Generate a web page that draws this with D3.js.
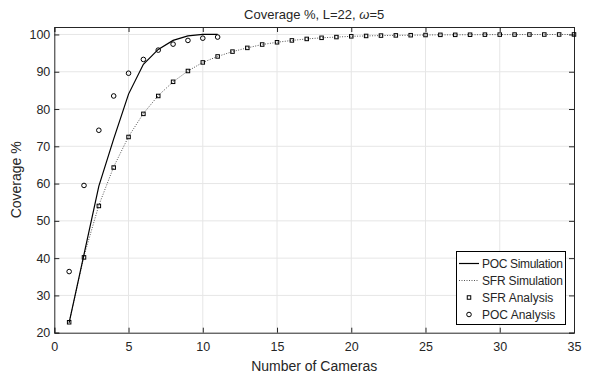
<!DOCTYPE html>
<html>
<head>
<meta charset="utf-8">
<script src="https://cdn.jsdelivr.net/npm/d3@7"></script>
<style>
  body { margin: 0; background: #fff; }
  svg text { font-family: "Liberation Sans", Arial, sans-serif; fill: #262626; }
</style>
</head>
<body>
<div id="chart"></div>
<script>
// Data
var cameras = d3.range(1, 36);
var pocCameras = d3.range(1, 12);

var sfrAnalysis = [22.8, 40.2, 54.0, 64.3, 72.5, 78.7, 83.5, 87.3, 90.2, 92.5,
                   94.1, 95.4, 96.4, 97.3, 97.9, 98.4, 98.8, 99.1, 99.3, 99.5,
                   99.6, 99.7, 99.75, 99.8, 99.85, 99.9, 99.9, 99.93, 99.95, 99.96,
                   99.97, 99.98, 99.98, 99.99, 100];
var sfrSimulation = [22.7, 40.6, 54.2, 64.5, 72.6, 78.8, 83.6, 87.3, 90.2, 92.5,
                     94.1, 95.4, 96.4, 97.3, 97.9, 98.4, 98.8, 99.1, 99.3, 99.5,
                     99.6, 99.7, 99.75, 99.8, 99.85, 99.9, 99.9, 99.93, 99.95, 99.96,
                     99.97, 99.98, 99.98, 99.99, 100];
var pocSimulation = [22.7, 41.0, 59.3, 72.0, 84.0, 92.0, 96.0, 98.4, 99.6, 100, 100];
var pocAnalysis = [36.4, 59.5, 74.3, 83.5, 89.6, 93.3, 95.8, 97.4, 98.4, 99.0, 99.3];

var xTicks = [0, 5, 10, 15, 20, 25, 30, 35];
var yTicks = [20, 30, 40, 50, 60, 70, 80, 90, 100];
var legendLabels = ["POC Simulation", "SFR Simulation", "SFR Analysis", "POC Analysis"];

//////////////////////////////////////////////////////////////////////////////
var width = 591, height = 377;
var plotLeft = 54.3, plotRight = 574, plotTop = 27, plotBottom = 332.7;
var axisColor = "#262626";

var svg = d3.select("#chart").append("svg")
    .attr("width", width)
    .attr("height", height);

var x = d3.scaleLinear().domain([0, 35]).range([plotLeft, plotRight]);
var y = d3.scaleLinear().domain([20, 102]).range([plotBottom, plotTop]);

// grid
var grid = svg.append("g");
grid.selectAll(".gx").data(xTicks.slice(1, -1)).enter().append("line")
    .attr("x1", d => x(d)).attr("x2", d => x(d))
    .attr("y1", plotTop).attr("y2", plotBottom)
    .attr("stroke", "#e6e6e6").attr("stroke-width", 1);
grid.selectAll(".gy").data(yTicks.slice(1)).enter().append("line")
    .attr("x1", plotLeft).attr("x2", plotRight)
    .attr("y1", d => y(d)).attr("y2", d => y(d))
    .attr("stroke", "#e6e6e6").attr("stroke-width", 1);

// axes (ticks inward, box on)
var xAxis = svg.append("g").attr("transform", "translate(0," + plotBottom + ")")
    .call(d3.axisBottom(x).tickValues(xTicks).tickSize(-5).tickPadding(9));
var xAxisTop = svg.append("g").attr("transform", "translate(0," + plotTop + ")")
    .call(d3.axisTop(x).tickValues(xTicks).tickSize(-5).tickFormat(""));
var yAxis = svg.append("g").attr("transform", "translate(" + plotLeft + ",0)")
    .call(d3.axisLeft(y).tickValues(yTicks).tickSize(-5).tickPadding(4));
var yAxisRight = svg.append("g").attr("transform", "translate(" + plotRight + ",0)")
    .call(d3.axisRight(y).tickValues(yTicks).tickSize(-5).tickFormat(""));

[xAxis, xAxisTop, yAxis, yAxisRight].forEach(function(a) {
    a.select(".domain").attr("stroke", axisColor);
    a.selectAll(".tick line").attr("stroke", axisColor);
    a.selectAll("text").attr("font-size", 12.5).attr("fill", axisColor)
        .style("font-family", "'Liberation Sans', Arial, sans-serif");
});

// lines
var line = d3.line().x(d => x(d[0])).y(d => y(d[1]));

svg.append("path")
    .datum(cameras.map((c, i) => [c, sfrSimulation[i]]))
    .attr("d", line)
    .attr("fill", "none")
    .attr("stroke", "#555")
    .attr("stroke-width", 1)
    .attr("stroke-dasharray", "1,1.5");

svg.append("path")
    .datum(pocCameras.map((c, i) => [c, pocSimulation[i]]))
    .attr("d", line)
    .attr("fill", "none")
    .attr("stroke", "#000")
    .attr("stroke-width", 1.2);

// markers
svg.append("g").selectAll("rect")
    .data(cameras.map((c, i) => [c, sfrAnalysis[i]]))
    .enter().append("rect")
    .attr("x", d => x(d[0]) - 1.75)
    .attr("y", d => y(d[1]) - 1.75)
    .attr("width", 3.5).attr("height", 3.5)
    .attr("fill", "none").attr("stroke", "#000").attr("stroke-width", 1);

svg.append("g").selectAll("circle")
    .data(pocCameras.map((c, i) => [c, pocAnalysis[i]]))
    .enter().append("circle")
    .attr("cx", d => x(d[0]))
    .attr("cy", d => y(d[1]))
    .attr("r", 2.3)
    .attr("fill", "none").attr("stroke", "#000").attr("stroke-width", 1);

// title and labels
var title = svg.append("text")
    .attr("x", (plotLeft + plotRight) / 2).attr("y", 19)
    .attr("text-anchor", "middle").attr("font-size", 13);
title.append("tspan").text("Coverage %, L=22, ");
title.append("tspan").attr("font-style", "italic").text("ω");
title.append("tspan").text("=5");

svg.append("text")
    .attr("x", (plotLeft + plotRight) / 2).attr("y", 371)
    .attr("text-anchor", "middle").attr("font-size", 14)
    .text("Number of Cameras");

svg.append("text")
    .attr("transform", "translate(21," + ((plotTop + plotBottom) / 2) + ") rotate(-90)")
    .attr("text-anchor", "middle").attr("font-size", 14)
    .text("Coverage %");

// legend
var lg = svg.append("g");
lg.append("rect")
    .attr("x", 456.5).attr("y", 251.5).attr("width", 109).attr("height", 73)
    .attr("fill", "#fff").attr("stroke", "#000").attr("stroke-width", 1);

var rowY = d3.scalePoint().domain(legendLabels).range([263.5, 314.5]);
legendLabels.forEach(function(lab, i) {
    var yy = rowY(lab);
    if (i === 0) {
        lg.append("line").attr("x1", 459).attr("x2", 479).attr("y1", yy).attr("y2", yy)
            .attr("stroke", "#000").attr("stroke-width", 1.2);
    } else if (i === 1) {
        lg.append("line").attr("x1", 459).attr("x2", 479).attr("y1", yy).attr("y2", yy)
            .attr("stroke", "#555").attr("stroke-dasharray", "1,1.5");
    } else if (i === 2) {
        lg.append("rect").attr("x", 467.25).attr("y", yy - 1.75).attr("width", 3.5).attr("height", 3.5)
            .attr("fill", "none").attr("stroke", "#000");
    } else {
        lg.append("circle").attr("cx", 469).attr("cy", yy).attr("r", 2.3)
            .attr("fill", "none").attr("stroke", "#000");
    }
    lg.append("text").attr("x", 482).attr("y", yy + 4.5)
        .attr("font-size", 12).attr("fill", "#000")
        .attr("textLength", lab.length > 12 ? 81 : null)
        .text(lab);
});
</script>
</body>
</html>
